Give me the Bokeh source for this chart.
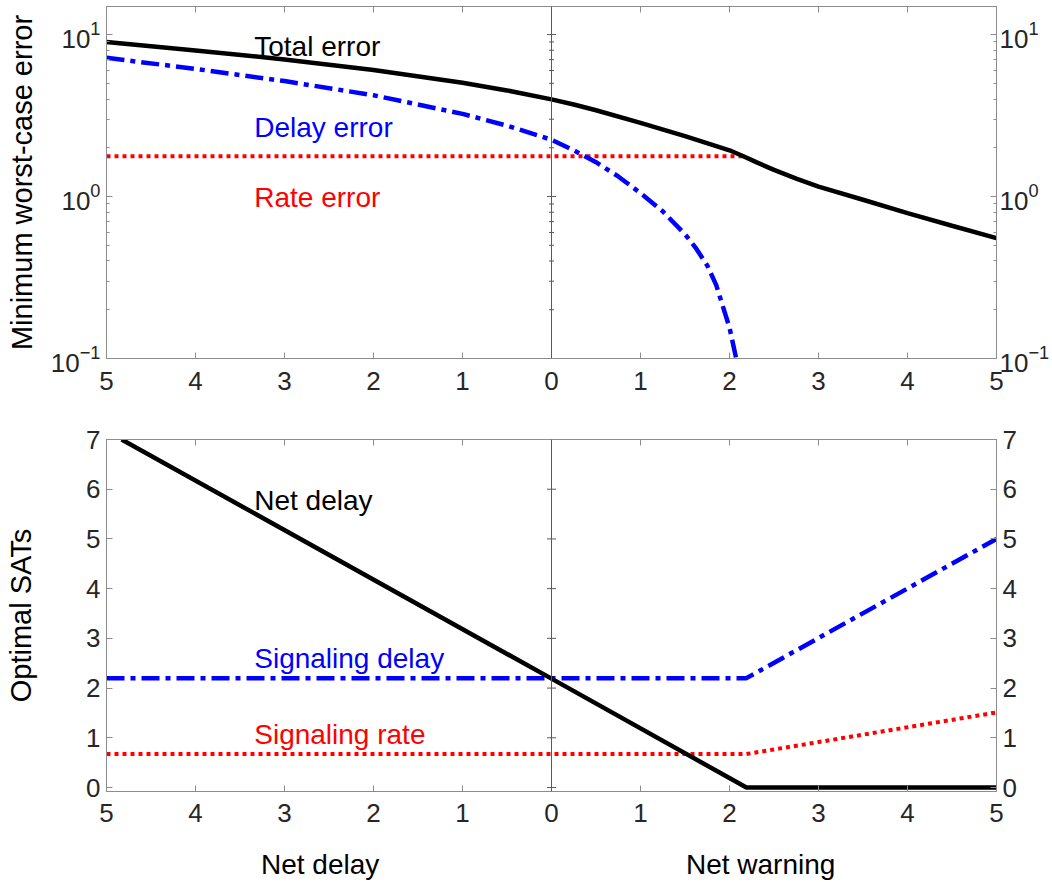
from bokeh.plotting import figure
from bokeh.models import Range1d, LinearAxis, LogAxis, FixedTicker, Span
from bokeh.layouts import column
from bokeh.embed import file_html
from bokeh.resources import INLINE
from bokeh.core.properties import value

FONT = "Liberation Sans"
AX = "#8c8c8c"
CENTER = "#5a5a5a"
TXT = "#262626"

# ---------------- data ----------------
x_ticks = [-5, -4, -3, -2, -1, 0, 1, 2, 3, 4, 5]
x_tick_labels = ["5", "4", "3", "2", "1", "0", "1", "2", "3", "4", "5"]
err_major_ticks = [0.1, 1, 10]
err_minor_ticks = [0.2, 0.3, 0.4, 0.5, 0.6, 0.7, 0.8, 0.9, 2, 3, 4, 5, 6, 7, 8, 9]
sat_ticks = [0, 1, 2, 3, 4, 5, 6, 7]

total_x = [-5, -4, -3, -2, -1, -0.5, 0, 0.25, 0.5, 1, 1.5, 2, 2.15, 2.3, 2.5, 2.75, 3, 3.5, 4,
           4.5, 5]
total_err = [9.0, 7.98, 7.02, 6.05, 5.04, 4.52, 3.98, 3.7, 3.41, 2.85, 2.36, 1.93, 1.78, 1.63,
             1.46, 1.29, 1.15, 0.955, 0.79, 0.66, 0.553]

delay_x = [-5, -4, -3, -2, -1, -0.5, 0, 0.25, 0.5, 0.75, 1, 1.25, 1.5, 1.625, 1.75, 1.85, 1.95,
           2.0, 2.04, 2.075, 2.1]
delay_err = [7.18, 6.14, 5.16, 4.22, 3.24, 2.74, 2.24, 1.93, 1.63, 1.33, 1.05, 0.81, 0.585,
             0.478, 0.375, 0.285, 0.19, 0.155, 0.123, 0.1, 0.085]

rate_x = [-5, 2.15]
rate_err = [1.77, 1.77]

net_x = [-4.83, 0, 2.19, 5]
net_delay = [7.0, 2.19, 0.0, 0.0]
sig_x = [-5, 2.19, 5]
sig_delay = [2.2, 2.2, 5.0]
sig_rate = [0.673, 0.673, 1.51]

err_labels = ["Total error", "Delay error", "Rate error"]
err_label_y = [8.47, 2.65, 0.99]
sat_labels = ["Net delay", "Signaling delay", "Signaling rate"]
sat_label_y = [5.78, 2.59, 1.075]
label_colors = ["black", "blue", "red"]
label_x = [-3.34, -3.34, -3.34]

x_titles = ["Net delay", "Net warning"]
x_title_pos = [-2.6, 2.35]

TICK_FS = "26px"
LABEL_FS = "29px"
NOTE_FS = "28px"
DASHDOT = "18 6 5 6"


def style(ax, labels=True, tick_in=6, tick_out=0, minor_in=0, minor_out=0, line_color=AX):
    ax.axis_line_color = line_color
    ax.major_tick_line_color = line_color
    ax.minor_tick_line_color = line_color
    ax.major_tick_in = tick_in
    ax.major_tick_out = tick_out
    ax.minor_tick_in = minor_in
    ax.minor_tick_out = minor_out
    ax.major_label_text_font = FONT
    ax.major_label_text_color = TXT
    if labels:
        ax.major_label_text_font_size = TICK_FS
    else:
        ax.major_label_text_font_size = "1px"
        ax.major_label_text_alpha = 0
        ax.major_label_standoff = 0
    ax.axis_label_text_font = FONT
    ax.axis_label_text_font_size = LABEL_FS
    ax.axis_label_text_font_style = "normal"
    ax.axis_label_text_color = "black"


x_over = {t: l for t, l in zip(x_ticks, x_tick_labels)}

# ---------------- top panel ----------------
p1 = figure(width=1052, height=420, x_range=Range1d(-5, 5), y_range=Range1d(0.1, 14.9),
            y_axis_type="log", output_backend="svg", toolbar_location=None,
            min_border_left=106, min_border_right=56, min_border_top=6, min_border_bottom=62)
p1.xgrid.visible = False
p1.ygrid.visible = False
p1.outline_line_color = AX

xa = p1.xaxis[0]
xa.ticker = FixedTicker(ticks=x_ticks)
xa.major_label_overrides = dict(x_over)
style(xa)
xa.major_label_standoff = 13

ya = p1.yaxis[0]
ya.ticker = FixedTicker(ticks=err_major_ticks, minor_ticks=err_minor_ticks)
style(ya, minor_in=3)
ya.axis_label = "Minimum worst-case error"
ya.major_label_standoff = 6
ya.axis_label_standoff = 10

ra = LogAxis(ticker=FixedTicker(ticks=err_major_ticks, minor_ticks=err_minor_ticks))
style(ra, minor_in=3)
ra.major_label_standoff = 3
p1.add_layout(ra, "right")

ta = LinearAxis(ticker=FixedTicker(ticks=x_ticks))
style(ta, labels=False)
p1.add_layout(ta, "above")

# centre line at x = 0 with ticks on both sides
p1.add_layout(Span(location=0, dimension="height", line_color=CENTER, line_width=1))
p1.scatter(x=[0] * len(err_major_ticks), y=err_major_ticks, marker="dash", size=9,
           line_color=CENTER, line_width=1)
p1.scatter(x=[0] * len(err_minor_ticks), y=err_minor_ticks, marker="dash", size=5,
           line_color=CENTER, line_width=1)

p1.line(rate_x, rate_err, line_color="red", line_width=4, line_dash="4 4")
p1.line(delay_x, delay_err, line_color="blue", line_width=4.5, line_dash=DASHDOT)
p1.line(total_x, total_err, line_color="black", line_width=4.5)
p1.text(x=label_x, y=err_label_y, text=err_labels, text_color=label_colors,
        text_font=value(FONT), text_font_size=NOTE_FS, text_align="left",
        text_baseline="alphabetic")

# ---------------- bottom panel ----------------
p2 = figure(width=1052, height=462, x_range=Range1d(-5, 5), y_range=Range1d(-0.08, 7),
            output_backend="svg", toolbar_location=None,
            min_border_left=106, min_border_right=56, min_border_top=19, min_border_bottom=91)
p2.xgrid.visible = False
p2.ygrid.visible = False
p2.outline_line_color = AX

xb = p2.xaxis[0]
xb.ticker = FixedTicker(ticks=x_ticks)
xb.major_label_overrides = dict(x_over)
style(xb)
xb.major_label_standoff = 12

lab = LinearAxis(ticker=FixedTicker(ticks=x_title_pos),
                 major_label_overrides={t: l for t, l in zip(x_title_pos, x_titles)})
style(lab)
lab.axis_line_color = None
lab.major_tick_line_color = None
lab.major_tick_in = 0
lab.major_label_text_font_size = NOTE_FS
lab.major_label_text_color = "black"
lab.major_label_standoff = 24
p2.add_layout(lab, "below")

yb = p2.yaxis[0]
yb.ticker = FixedTicker(ticks=sat_ticks)
style(yb)
yb.axis_label = "Optimal SATs"
yb.major_label_standoff = 6
yb.axis_label_standoff = 46

rb = LinearAxis(ticker=FixedTicker(ticks=sat_ticks))
style(rb)
rb.major_label_standoff = 6
p2.add_layout(rb, "right")

tb = LinearAxis(ticker=FixedTicker(ticks=x_ticks))
style(tb, labels=False)
p2.add_layout(tb, "above")

p2.add_layout(Span(location=0, dimension="height", line_color=CENTER, line_width=1))
p2.scatter(x=[0] * len(sat_ticks), y=sat_ticks, marker="dash", size=9,
           line_color=CENTER, line_width=1)

p2.line(sig_x, sig_rate, line_color="red", line_width=4, line_dash="4 4")
p2.line(sig_x, sig_delay, line_color="blue", line_width=4.5, line_dash=DASHDOT)
p2.line(net_x, net_delay, line_color="black", line_width=4.5)
p2.text(x=label_x, y=sat_label_y, text=sat_labels, text_color=label_colors,
        text_font=value(FONT), text_font_size=NOTE_FS, text_align="left",
        text_baseline="alphabetic")

layout = column(p1, p2)
open("out.html", "w").write(file_html(layout, INLINE))
